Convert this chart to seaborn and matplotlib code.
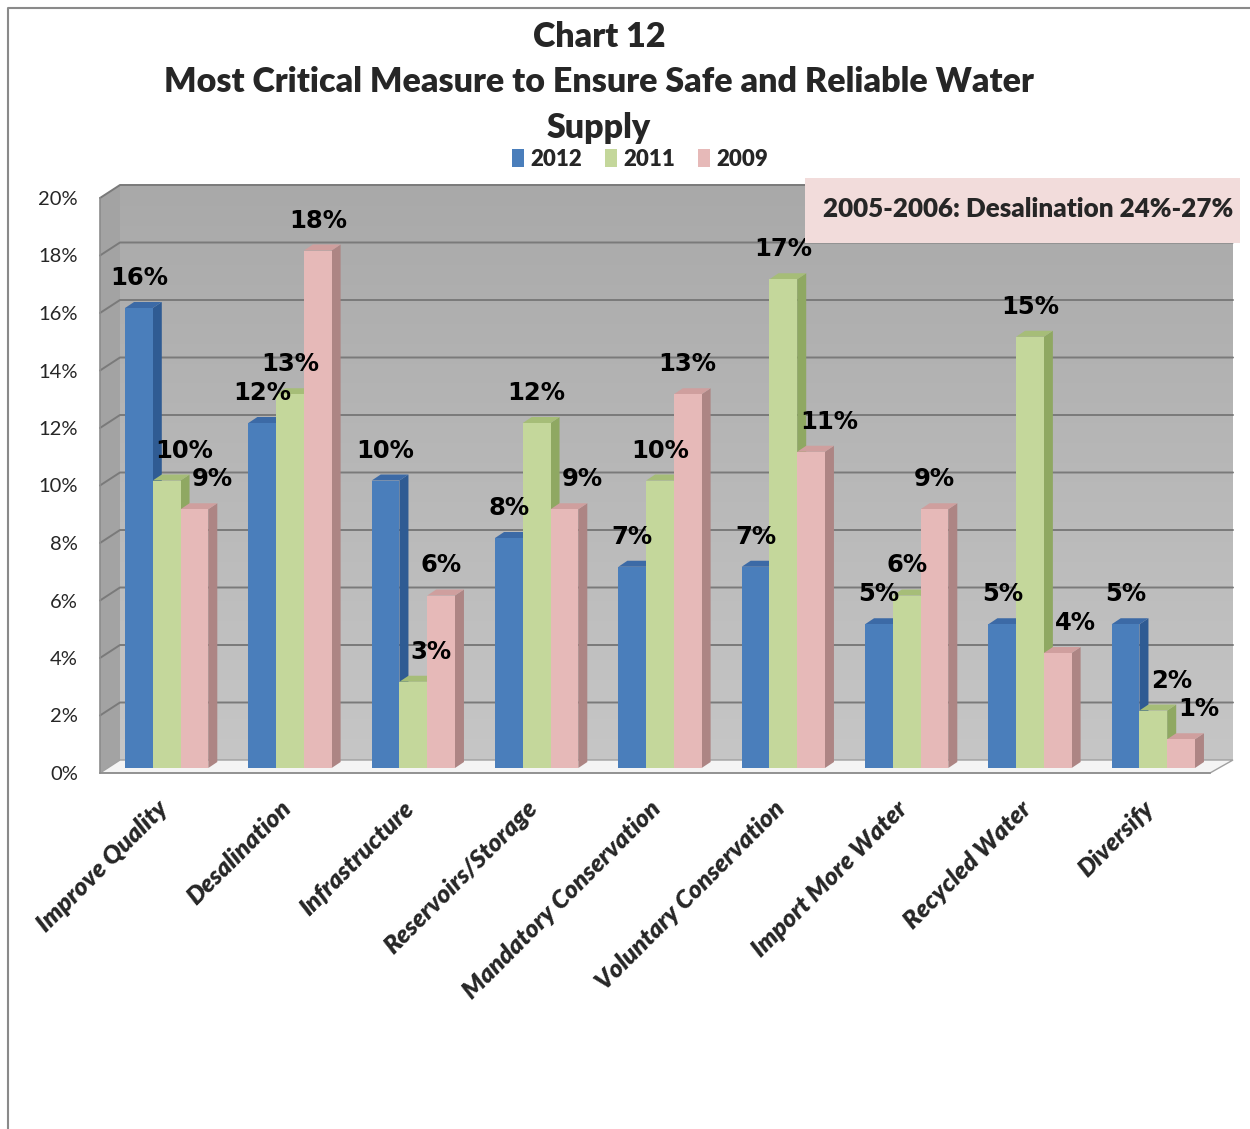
import numpy as np
import pandas as pd
import matplotlib
matplotlib.use("Agg")
import matplotlib.pyplot as plt
import seaborn as sns
from matplotlib.patches import Polygon, Rectangle
from matplotlib.lines import Line2D
from matplotlib.transforms import IdentityTransform, ScaledTranslation
from matplotlib.colors import LinearSegmentedColormap

# ---- data -------------------------------------------------------------
categories = ["Improve Quality", "Desalination", "Infrastructure", "Reservoirs/Storage",
              "Mandatory Conservation", "Voluntary Conservation", "Import More Water",
              "Recycled Water", "Diversify"]
years = ["2012", "2011", "2009"]
share_2012 = [0.16, 0.12, 0.10, 0.08, 0.07, 0.07, 0.05, 0.05, 0.05]
share_2011 = [0.10, 0.13, 0.03, 0.12, 0.10, 0.17, 0.06, 0.15, 0.02]
share_2009 = [0.09, 0.18, 0.06, 0.09, 0.13, 0.11, 0.09, 0.04, 0.01]
ytick_values = [0.00, 0.02, 0.04, 0.06, 0.08, 0.10, 0.12, 0.14, 0.16, 0.18, 0.20]
title_lines = ["Chart 12", "Most Critical Measure to Ensure Safe and Reliable Water", "Supply"]
note_text = "2005-2006: Desalination 24%-27%"

df = pd.DataFrame({
    "measure": categories * 3,
    "year": [y for y in years for _ in categories],
    "share": share_2012 + share_2011 + share_2009,
})

# ---- styling ----------------------------------------------------------
front = {"2012": "#4a7ebb", "2011": "#c4d79b", "2009": "#e6b9b8"}
side = {"2012": "#2f5b93", "2011": "#8fa862", "2009": "#ad8584"}
top = {"2012": "#3c6aa6", "2011": "#a6bd78", "2009": "#cf9f9e"}
grid_col = "#7a7a7a"
axis_col = "#8c8c8c"
HEAVY = "heavy"

W, H = 1250, 1129
DPI = 100
sns.set_style("white")
plt.rcParams["font.family"] = ["Lato", "DejaVu Sans"]

fig = plt.figure(figsize=(W / DPI, H / DPI), dpi=DPI)


def fx(x):
    return x / W


def fy(y):
    return 1 - y / H


# depth of the back wall and of the bars, in pixels
WALL_DX, WALL_DY = 20, 13
BAR_SHIFT = 5
BAR_DX, BAR_DY = 9, 6

# back wall with a soft vertical gradient
wall_ax = fig.add_axes([fx(100 + WALL_DX), fy(773 - WALL_DY), 1113 / W, 575 / H], zorder=-1)
wall_cmap = LinearSegmentedColormap.from_list("wall", ["#a9a9a9", "#c6c6c6"])
wall_ax.imshow(np.linspace(0, 1, 256).reshape(-1, 1), aspect="auto", cmap=wall_cmap,
               extent=(0, 1, 0, 1), origin="upper")
wall_ax.axis("off")

ax = fig.add_axes([fx(100), fy(773), 1110 / W, 575 / H])
ax.set_facecolor("none")

sns.barplot(data=df, x="measure", y="share", hue="year", hue_order=years,
            palette=front, width=0.675, saturation=1, edgecolor="none",
            linewidth=0, legend=False, ax=ax)
bars = sorted([p for p in ax.patches if isinstance(p, Rectangle) and p.get_height() > 0],
              key=lambda p: p.get_x())

ax.set_xlim(-0.5, len(categories) - 0.5)
ax.set_ylim(0, 0.20)
ax.set_xlabel("")
ax.set_ylabel("")

# y axis
ax.set_yticks(ytick_values)
ax.set_yticklabels([f"{v:.0%}" for v in ytick_values], fontsize=14.5)
ax.tick_params(axis="y", length=8, width=1.2, color=axis_col, pad=8)

# x axis: labels under each category, tick marks at the boundaries
ax.set_xticks(range(len(categories)))
ax.set_xticklabels(categories, rotation=45, ha="right", rotation_mode="anchor",
                   fontsize=18, fontweight=HEAVY, fontstyle="italic")
ax.tick_params(axis="x", length=0, pad=17)
label_shift = ScaledTranslation(-6 / DPI, 0, fig.dpi_scale_trans)
for lab in ax.get_xticklabels():
    lab.set_transform(lab.get_transform() + label_shift)
ax.set_xticks(np.arange(-0.5, len(categories)), minor=True)
ax.tick_params(axis="x", which="minor", length=11, width=1.2, color=axis_col)

for s in ["top", "right"]:
    ax.spines[s].set_visible(False)
for s in ["left", "bottom"]:
    ax.spines[s].set_color(axis_col)
    ax.spines[s].set_linewidth(1.2)

fig.canvas.draw()
to_disp = ax.transData.transform
ident = IdentityTransform()

x_left, y_base = to_disp((-0.5, 0))
x_right, _ = to_disp((len(categories) - 0.5, 0))
_, y_top = to_disp((-0.5, 0.20))

# side wall and floor
ax.add_patch(Polygon([(x_left, y_base), (x_left, y_top), (x_left + WALL_DX, y_top + WALL_DY),
                      (x_left + WALL_DX, y_base + WALL_DY)], closed=True, transform=ident,
                     facecolor="#a3a3a3", edgecolor="none", clip_on=False, zorder=0.1))
ax.add_patch(Polygon([(x_left, y_base), (x_right, y_base),
                      (x_right + WALL_DX + 3, y_base + WALL_DY),
                      (x_left + WALL_DX, y_base + WALL_DY)], closed=True, transform=ident,
                     facecolor="#f4f4f4", edgecolor="#a0a0a0", linewidth=1.0,
                     clip_on=False, zorder=0.15))

# gridlines running up the side wall and across the back wall
for v in ytick_values[1:]:
    _, yv = to_disp((-0.5, v))
    ax.add_line(Line2D([x_left, x_left + WALL_DX, x_right + WALL_DX + 3],
                       [yv, yv + WALL_DY, yv + WALL_DY], transform=ident,
                       color=grid_col, linewidth=1.4, clip_on=False, zorder=0.2))

# bars: shift the front faces and add side / top faces
shift = ScaledTranslation(BAR_SHIFT / DPI, BAR_SHIFT / DPI, fig.dpi_scale_trans)
values = {}
for i, cat in enumerate(categories):
    for j, yr in enumerate(years):
        values[(i, j)] = df[(df.measure == cat) & (df.year == yr)].share.iloc[0]

for k, b in enumerate(bars):
    x0, w, h = b.get_x(), b.get_width(), b.get_height()
    cat_idx = int(round(x0 + w / 2))
    yr_idx = int(round((x0 + w / 2 - cat_idx) / w)) + 1
    yr = years[yr_idx]
    b.set_transform(ax.transData + shift)
    b.set_zorder(3 + 2 * k)
    (px0, py0) = to_disp((x0, 0))
    (px1, py1) = to_disp((x0 + w, h))
    px0 += BAR_SHIFT
    px1 += BAR_SHIFT
    py0 += BAR_SHIFT
    py1 += BAR_SHIFT
    ax.add_patch(Polygon([(px1, py0), (px1, py1), (px1 + BAR_DX, py1 + BAR_DY),
                          (px1 + BAR_DX, py0 + BAR_DY)], closed=True, transform=ident,
                         facecolor=side[yr], edgecolor="none", clip_on=False,
                         zorder=2 + 2 * k))
    ax.add_patch(Polygon([(px0, py1), (px1, py1), (px1 + BAR_DX, py1 + BAR_DY),
                          (px0 + BAR_DX, py1 + BAR_DY)], closed=True, transform=ident,
                         facecolor=top[yr], edgecolor="none", clip_on=False,
                         zorder=2 + 2 * k))

    # value label, nudged right when the neighbouring bar on the left is taller
    nudge = 0
    if yr_idx > 0 and values[(cat_idx, yr_idx - 1)] > h + 1e-9:
        nudge = 18
    ax.annotate(f"{h:.0%}", xy=(x0 + w / 2, h), xytext=(BAR_SHIFT + nudge, 35),
                textcoords="offset pixels", ha="center", va="center",
                fontsize=17.5, fontweight="bold", family="DejaVu Sans",
                color="black", zorder=100, annotation_clip=False)

# title, one line at a time
for line, base in zip(title_lines, [47, 92, 138]):
    fig.text(fx(599), fy(base), line, ha="center", va="baseline",
             fontsize=24.5, fontweight=HEAVY)

# legend
handles = [Rectangle((0, 0), 1, 1, facecolor=front[y], edgecolor="none") for y in years]
fig.legend(handles, years, loc="center", bbox_to_anchor=(fx(640), fy(159)), ncol=3,
           frameon=False, prop={"weight": HEAVY, "size": 16}, handlelength=0.55,
           handleheight=0.9, handletextpad=0.3, columnspacing=1.0)

# note box
fig.add_artist(Rectangle((fx(805), fy(243)), 435 / W, 65 / H, transform=fig.transFigure,
                         facecolor="#f2dcdb", edgecolor="none", zorder=5))
fig.text(fx(823), fy(209), note_text, ha="left", va="center", fontsize=18.7,
         fontweight=HEAVY, zorder=6)

# chart-area border
fig.add_artist(Line2D([fx(8), fx(8), 1.0], [0.0, fy(8), fy(8)], transform=fig.transFigure,
                      color="#8a8a8a", linewidth=1.5))

fig.savefig("out.png", dpi=DPI)
